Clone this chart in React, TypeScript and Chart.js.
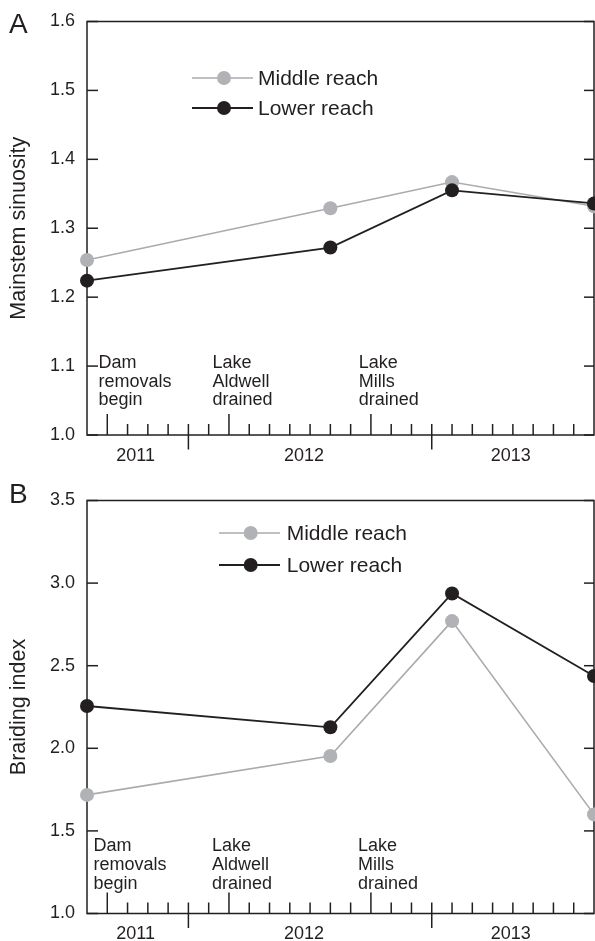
import React, { useEffect, useRef } from "react";
import { Chart, registerables } from "chart.js";

Chart.register(...registerables);

// ---- data ----
const sampleMonths = [0, 12, 18, 25]; // months since Aug 2011
const sinuosityMiddle = [1.254, 1.329, 1.367, 1.332];
const sinuosityLower = [1.224, 1.272, 1.355, 1.336];
const braidingMiddle = [1.718, 1.953, 2.77, 1.6];
const braidingLower = [2.256, 2.127, 2.937, 2.438];

const seriesNames = ["Middle reach", "Lower reach"];
const yearLabels = ["2011", "2012", "2013"];
const yearLabelMonths = [2.4, 10.7, 20.9];
const yearBoundaryMonths = [5, 17];
const eventMonths = [1, 7, 14];
const eventLabels = [
  ["Dam", "removals", "begin"],
  ["Lake", "Aldwell", "drained"],
  ["Lake", "Mills", "drained"],
];
const monthCount = 25;

const INK = "#231f20";
const GRAY = "#b0b2b5";
const GRAY_LINE = "#a9abae";
const FONT = "'Liberation Sans', Arial, Helvetica, sans-serif";

Chart.defaults.font.family = FONT;

type PanelCfg = {
  height: number;
  top: number;
  xAxisHeight: number;
  yMin: number;
  yMax: number;
  yStep: number;
  title: string;
  middle: number[];
  lower: number[];
  letter: string;
  letterY: number;
  annX: number[];
  annY: number;
  annLH: number;
  legend: { x0: number; x1: number; mx: number; tx: number; y: number[] };
};

const framePlugin = {
  id: "frame",
  beforeDatasetsDraw(chart: any) {
    const { ctx, chartArea, scales } = chart;
    const { left, right, top, bottom } = chartArea;
    const x = scales.x;
    const y = scales.y;
    const line = (a: number, b: number, c: number, d: number) => {
      ctx.beginPath();
      ctx.moveTo(a, b);
      ctx.lineTo(c, d);
      ctx.stroke();
    };
    ctx.save();
    ctx.strokeStyle = INK;
    ctx.lineWidth = 1.5;
    ctx.strokeRect(left, top, right - left, bottom - top);
    y.ticks.forEach((t: any) => {
      const py = y.getPixelForValue(t.value);
      line(left, py, left + 11, py);
      line(right, py, right - 10, py);
    });
    for (let m = 1; m < monthCount; m++) {
      const px = x.getPixelForValue(m);
      if (yearBoundaryMonths.includes(m)) line(px, bottom - 11, px, bottom + 14.5);
      else if (eventMonths.includes(m)) line(px, bottom, px, bottom - 21);
      else line(px, bottom, px, bottom - 11);
    }
    ctx.restore();
  },
  afterDraw(chart: any) {
    const { ctx, scales } = chart;
    const x = scales.x;
    const y = scales.y;
    const cfg: PanelCfg = chart.options.plugins.frame;
    ctx.save();
    ctx.fillStyle = INK;
    ctx.textAlign = "left";
    ctx.textBaseline = "middle";
    ctx.font = `18px ${FONT}`;
    eventLabels.forEach((lines, i) => {
      const px = x.getPixelForValue(cfg.annX[i]);
      const py = y.getPixelForValue(cfg.annY);
      lines.forEach((s, k) => ctx.fillText(s, px, py + k * cfg.annLH));
    });
    // legend
    const lg = cfg.legend;
    const styles = [
      { c: GRAY_LINE, p: GRAY, w: 1.6 },
      { c: INK, p: INK, w: 1.8 },
    ];
    ctx.font = `21px ${FONT}`;
    seriesNames.forEach((name, i) => {
      const yy = lg.y[i];
      ctx.strokeStyle = styles[i].c;
      ctx.lineWidth = styles[i].w;
      ctx.beginPath();
      ctx.moveTo(lg.x0, yy);
      ctx.lineTo(lg.x1, yy);
      ctx.stroke();
      ctx.fillStyle = styles[i].p;
      ctx.beginPath();
      ctx.arc(lg.mx, yy, 7, 0, Math.PI * 2);
      ctx.fill();
      ctx.fillStyle = INK;
      ctx.fillText(name, lg.tx, yy + 1);
    });
    // panel letter
    ctx.font = `28px ${FONT}`;
    ctx.textBaseline = "alphabetic";
    ctx.fillText(cfg.letter, 9, cfg.letterY);
    ctx.restore();
  },
};

function Panel({ cfg }: { cfg: PanelCfg }) {
  const ref = useRef<HTMLCanvasElement>(null);
  useEffect(() => {
    const mk = (vals: number[]) => sampleMonths.map((m, i) => ({ x: m, y: vals[i] }));
    const chart = new Chart(ref.current as HTMLCanvasElement, {
      type: "line",
      data: {
        datasets: [
          {
            label: seriesNames[1],
            data: mk(cfg.lower),
            borderColor: INK,
            backgroundColor: INK,
            pointBackgroundColor: INK,
            pointBorderColor: INK,
            pointBorderWidth: 0,
            pointRadius: 7,
            borderWidth: 1.8,
            order: 0,
            clip: false as any,
            tension: 0,
          },
          {
            label: seriesNames[0],
            data: mk(cfg.middle),
            borderColor: GRAY_LINE,
            backgroundColor: GRAY,
            pointBackgroundColor: GRAY,
            pointBorderColor: GRAY,
            pointBorderWidth: 0,
            pointRadius: 7,
            borderWidth: 1.6,
            order: 1,
            clip: false as any,
            tension: 0,
          },
        ],
      },
      options: {
        responsive: false,
        maintainAspectRatio: false,
        animation: false,
        events: [],
        layout: { autoPadding: false, padding: { top: cfg.top, right: 1, left: 0, bottom: 0 } },
        plugins: {
          legend: { display: false },
          tooltip: { enabled: false },
          frame: cfg as any,
        } as any,
        scales: {
          x: {
            type: "linear",
            min: 0,
            max: monthCount,
            afterBuildTicks: (s: any) => {
              s.ticks = yearLabelMonths.map((v) => ({ value: v }));
            },
            afterFit: (s: any) => {
              s.height = cfg.xAxisHeight;
              s.paddingLeft = 0;
              s.paddingRight = 0;
            },
            ticks: {
              callback: (_v: any, i: number) => yearLabels[i],
              font: { size: 18 },
              color: INK,
              padding: 10,
              autoSkip: false,
              maxRotation: 0,
            },
            grid: { display: false, drawTicks: false },
            border: { display: false },
          },
          y: {
            min: cfg.yMin,
            max: cfg.yMax,
            afterFit: (s: any) => {
              s.width = 87;
              s.paddingTop = 0;
              s.paddingBottom = 0;
            },
            ticks: {
              stepSize: cfg.yStep,
              callback: (v: any) => Number(v).toFixed(1),
              font: { size: 18 },
              color: INK,
              padding: 12,
            },
            grid: { display: false, drawTicks: false },
            border: { display: false },
            title: {
              display: true,
              text: cfg.title,
              font: { size: 21.5 },
              color: INK,
              padding: { top: 6, bottom: 0 },
            },
          },
        },
      } as any,
      plugins: [framePlugin],
    });
    return () => chart.destroy();
  }, []);
  return (
    <canvas
      ref={ref}
      width={595}
      height={cfg.height}
      style={{ display: "block", width: 595, height: cfg.height }}
    />
  );
}

const topCfg: PanelCfg = {
  height: 470,
  top: 21.5,
  xAxisHeight: 35,
  yMin: 1.0,
  yMax: 1.6,
  yStep: 0.1,
  title: "Mainstem sinuosity",
  middle: sinuosityMiddle,
  lower: sinuosityLower,
  letter: "A",
  letterY: 33,
  annX: [0.57, 6.19, 13.4],
  annY: 1.104,
  annLH: 18.5,
  legend: { x0: 192, x1: 253, mx: 224, tx: 258, y: [78, 108] },
};

const bottomCfg: PanelCfg = {
  height: 471,
  top: 30.5,
  xAxisHeight: 27.5,
  yMin: 1.0,
  yMax: 3.5,
  yStep: 0.5,
  title: "Braiding index",
  middle: braidingMiddle,
  lower: braidingLower,
  letter: "B",
  letterY: 33,
  annX: [0.32, 6.16, 13.36],
  annY: 1.408,
  annLH: 18.8,
  legend: { x0: 219, x1: 280, mx: 250.7, tx: 286.7, y: [63, 95] },
};

export default function App() {
  return (
    <div
      style={{
        position: "absolute",
        left: 0,
        top: 0,
        width: 595,
        height: 941,
        background: "#fff",
        overflow: "hidden",
      }}
    >
      <Panel cfg={topCfg} />
      <Panel cfg={bottomCfg} />
    </div>
  );
}
